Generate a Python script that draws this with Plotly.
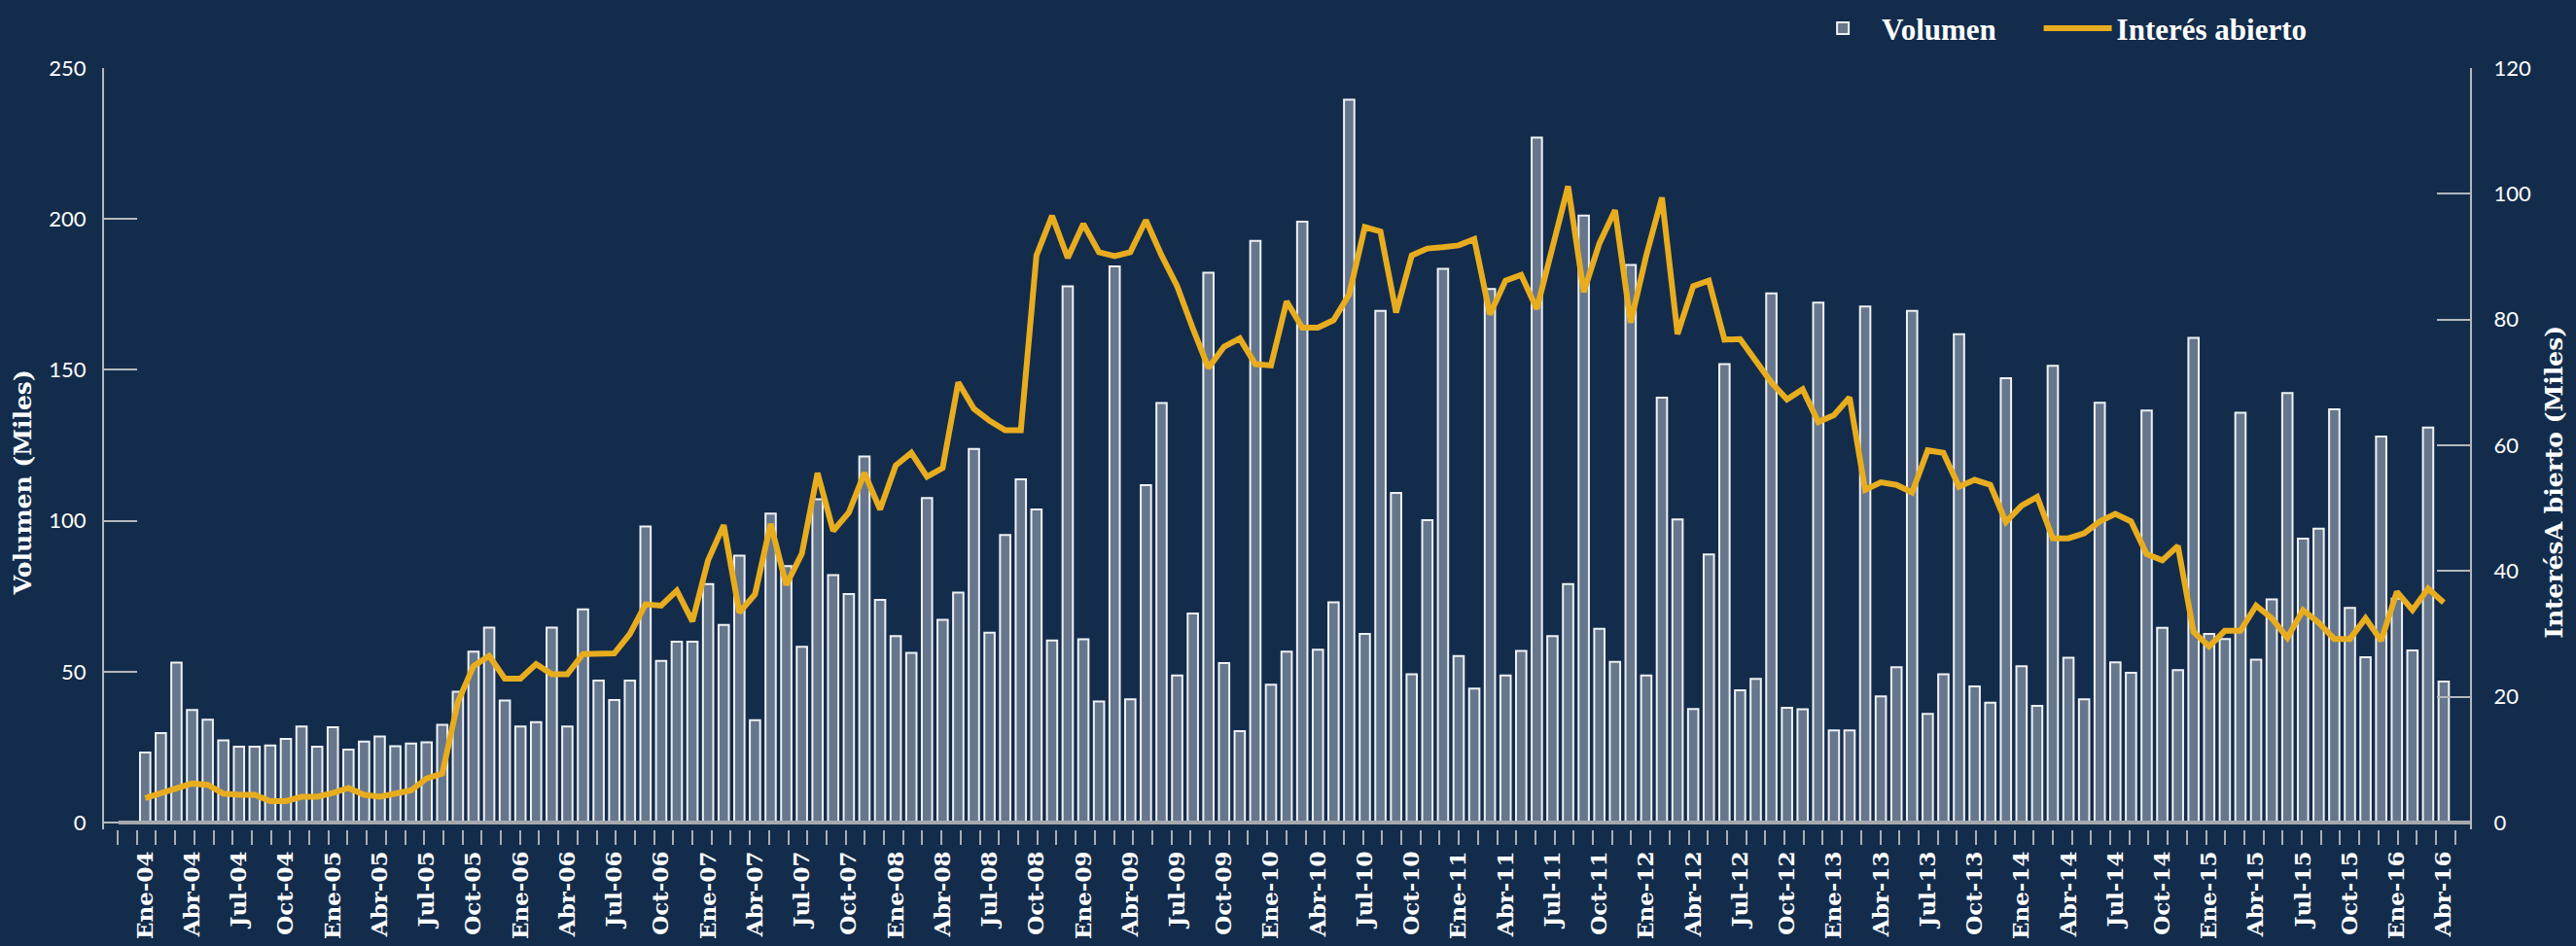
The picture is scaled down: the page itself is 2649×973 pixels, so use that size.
import plotly.graph_objects as go

MESES = ["Ene", "Feb", "Mar", "Abr", "May", "Jun", "Jul", "Ago", "Sep", "Oct", "Nov", "Dic"]
fechas = [f"{MESES[m]}-{a:02d}" for a in range(4, 17) for m in range(12)][:148]

# Volumen mensual (miles de contratos), Ene-04 .. Abr-16
volumen = [
    23.2, 29.6, 53.0, 37.3, 34.1, 27.2, 25.1, 25.1, 25.5, 27.7,
    31.8, 25.1, 31.6, 24.2, 26.8, 28.5, 25.3, 26.2, 26.6, 32.4,
    43.3, 56.6, 64.6, 40.4, 31.8, 33.3, 64.6, 31.8, 70.6, 47.0,
    40.6, 47.0, 98.1, 53.6, 59.9, 59.9, 79.0, 65.5, 88.4, 33.9,
    102.4, 85.0, 58.2, 107.1, 82.0, 75.7, 121.3, 73.8, 61.8, 56.2,
    107.5, 67.2, 76.2, 123.8, 62.9, 95.3, 113.7, 103.7, 60.3, 177.7,
    60.7, 40.1, 184.3, 40.8, 111.8, 139.0, 48.7, 69.3, 182.2, 52.8,
    30.3, 192.7, 45.7, 56.6, 199.1, 57.3, 73.0, 239.5, 62.5, 169.5,
    109.2, 49.1, 100.2, 183.5, 55.2, 44.4, 176.8, 48.7, 56.9, 227.0,
    61.8, 79.0, 201.1, 64.2, 53.2, 184.8, 48.7, 140.8, 100.4, 37.6,
    88.8, 151.9, 43.8, 47.6, 175.3, 38.0, 37.5, 172.3, 30.5, 30.5,
    171.0, 41.8, 51.5, 169.5, 36.0, 49.1, 161.8, 45.1, 39.7, 147.2,
    51.8, 38.7, 151.3, 54.6, 40.8, 139.1, 53.1, 49.6, 136.5, 64.5,
    50.5, 160.6, 62.5, 60.8, 135.8, 54.0, 73.9, 142.3, 94.1, 97.4,
    136.9, 71.1, 54.8, 127.9, 74.2, 57.0, 130.9, 46.7,
]

# Interes abierto (miles)
interes = [
    3.9, 4.6, 5.3, 6.2, 6.0, 4.6, 4.4, 4.4, 3.4, 3.4,
    4.1, 4.1, 4.7, 5.5, 4.4, 4.1, 4.6, 5.1, 7.0, 7.8,
    19.2, 24.9, 26.5, 22.9, 22.9, 25.2, 23.6, 23.6, 26.8, 26.9,
    26.9, 30.0, 34.7, 34.5, 36.9, 32.0, 41.7, 47.3, 33.4, 36.3,
    47.5, 37.8, 42.8, 55.6, 46.4, 49.3, 55.6, 49.8, 56.8, 58.8,
    55.0, 56.4, 70.0, 65.8, 63.9, 62.4, 62.4, 90.2, 96.5, 89.8,
    95.2, 90.7, 90.1, 90.7, 95.8, 90.2, 85.3, 78.6, 72.3, 75.7,
    77.0, 72.9, 72.7, 82.9, 78.7, 78.7, 79.9, 84.0, 94.7, 94.0,
    81.1, 90.2, 91.3, 91.5, 91.8, 92.8, 80.8, 86.2, 87.1, 81.7,
    91.1, 101.2, 84.4, 92.1, 97.4, 79.5, 90.2, 99.4, 77.7, 85.3,
    86.2, 76.8, 76.9, 73.6, 70.0, 67.3, 68.9, 63.7, 64.8, 67.6,
    52.9, 54.1, 53.7, 52.5, 59.2, 58.8, 53.4, 54.5, 53.7, 47.8,
    50.4, 51.8, 45.2, 45.2, 46.0, 47.9, 49.1, 47.9, 42.7, 41.7,
    44.0, 30.3, 28.0, 30.5, 30.5, 34.5, 32.5, 29.4, 33.8, 31.8,
    29.2, 29.2, 32.5, 28.9, 36.7, 33.8, 37.2, 35.0,
]

x = list(range(len(volumen)))
tick_pos = x[::3]
tick_txt = fechas[::3]

BG = "#132c4c"
BAR_FILL = "#66768c"
BAR_LINE = "#eef1f4"
GOLD = "#e8ad1f"
AXIS = "#b4b8be"
NBSP = "\u00a0"

fig = go.Figure()
fig.add_trace(go.Bar(x = x, y = volumen, name = "Volumen" + NBSP * 5, width = 0.66,
                     marker = dict(color = BAR_FILL, line = dict(color = BAR_LINE, width = 2)),
                     hovertext = fechas))
fig.add_trace(go.Scatter(x = x, y = interes, name = "Interés abierto", yaxis = "y2",
                         mode = "lines", line = dict(color = GOLD, width = 6),
                         hovertext = fechas))

tick_font = dict(family = "Lato", size = 22, color = "white")
serif_bold = dict(family = "DejaVu Serif", weight = "bold", color = "white")

fig.update_layout(
    width = 2649, height = 973,
    margin = dict(l = 107, r = 109, t = 70, b = 120, autoexpand = False),
    paper_bgcolor = BG, plot_bgcolor = BG,
    showlegend = True,
    legend = dict(orientation = "h", x = 0.7185, y = 1.052, xanchor = "left", yanchor = "middle",
                  bgcolor = "rgba(0,0,0,0)", itemwidth = 70,
                  font = dict(family = "Liberation Serif", weight = "bold", size = 31, color = "white")),
    xaxis = dict(range = [-2.63, 148.68], tickmode = "array", tickvals = tick_pos, ticktext = tick_txt,
                 tickangle = -90, ticks = "", showgrid = False, zeroline = False, showline = False,
                 automargin = False, ticklabelstandoff = 17, tickfont = dict(serif_bold, size = 23),
                 minor = dict(tickmode = "linear", tick0 = -1.76, dtick = 1.2253, ticks = "outside",
                              ticklen = 15, tickwidth = 2, tickcolor = "#a9adb2", showgrid = False)),
    yaxis = dict(range = [-2.255, 250], tickvals = [0, 50, 100, 150, 200, 250], ticks = "inside",
                 ticklen = 34, tickwidth = 2, tickcolor = AXIS, showline = True, linecolor = AXIS,
                 linewidth = 2, showgrid = False, zeroline = False, tickfont = tick_font,
                 automargin = False, ticklabelstandoff = 12),
    yaxis2 = dict(range = [-1.0825, 120], tickvals = [0, 20, 40, 60, 80, 100, 120], overlaying = "y",
                  side = "right", ticks = "inside", ticklen = 34, tickwidth = 2, tickcolor = AXIS,
                  showline = True, linecolor = AXIS, linewidth = 2, showgrid = False, zeroline = False,
                  tickfont = tick_font, automargin = False, ticklabelstandoff = 18),
)

# linea base gris del eje de categorias
fig.add_shape(type = "line", xref = "x", yref = "y", x0 = -1.7, x1 = 148.68, y0 = 0, y1 = 0,
              line = dict(color = "#a6a9ad", width = 4), layer = "above")

fig.add_annotation(text = "Volumen (Miles)", textangle = -90, showarrow = False,
                   xref = "paper", yref = "paper", x = -0.034, y = 0.456, xanchor = "center",
                   font = dict(serif_bold, size = 25))
fig.add_annotation(text = "InterésA bierto (Miles)", textangle = -90, showarrow = False,
                   xref = "paper", yref = "paper", x = 1.0357, y = 0.456, xanchor = "center",
                   font = dict(serif_bold, size = 25))

fig.write_html("out.html", config = {"displayModeBar": False},
               post_script = "document.body.style.margin='0';document.body.style.overflow='hidden';"
                             "document.body.style.background='" + BG + "';")
